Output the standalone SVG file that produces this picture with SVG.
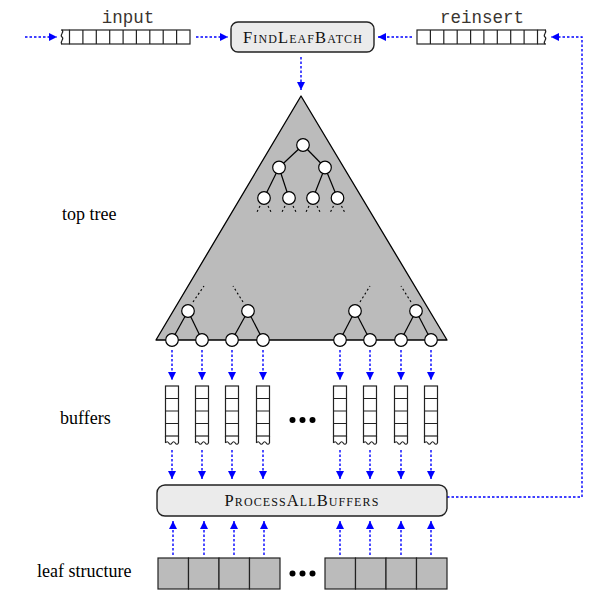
<svg xmlns="http://www.w3.org/2000/svg" width="599" height="613" viewBox="0 0 599 613">
<defs>
<marker id="ah" markerUnits="userSpaceOnUse" markerWidth="9" markerHeight="8" refX="8" refY="4" orient="auto">
<path d="M0,0 L8,4 L0,8 z" fill="#0000ff"/>
</marker>
<style>
.conn{stroke:#0000ff;stroke-width:1.4;stroke-dasharray:2.5,2;fill:none}
.box{fill:#ebebeb;stroke:#222;stroke-width:1.4}
.cell{fill:#fff;stroke:#222;stroke-width:1.2}
.ln{stroke:#222;stroke-width:1.2;fill:none}
.gray{fill:#bbbbbb;stroke:#222;stroke-width:1.2}
.node{fill:#fff;stroke:#000;stroke-width:1.2}
.edge{stroke:#000;stroke-width:1.2}
.dash{stroke:#000;stroke-width:1.1;stroke-dasharray:2,2.5}
.lbl{font-family:"Liberation Serif",serif;font-size:18px;fill:#000}
.mono{font-family:"Liberation Mono",monospace;font-size:17.5px;fill:#3a3530}
.sc{font-family:"Liberation Serif",serif;font-size:16.5px;font-variant:small-caps;letter-spacing:1.1px;fill:#111}
.dot{fill:#000}
</style>
</defs>

<g id="connectors">
<line class="conn" x1="25" y1="37" x2="57" y2="37" marker-end="url(#ah)"/>
<line class="conn" x1="196" y1="37" x2="228" y2="37" marker-end="url(#ah)"/>
<line class="conn" x1="412" y1="37" x2="378" y2="37" marker-end="url(#ah)"/>
<polyline class="conn" points="447,497 582,497 582,37 551,37" marker-end="url(#ah)"/>
<line class="conn" x1="301" y1="57" x2="301" y2="90" marker-end="url(#ah)"/>
<g>
<line class="conn" x1="172" y1="350" x2="172" y2="380" marker-end="url(#ah)"/>
<line class="conn" x1="202" y1="350" x2="202" y2="380" marker-end="url(#ah)"/>
<line class="conn" x1="232" y1="350" x2="232" y2="380" marker-end="url(#ah)"/>
<line class="conn" x1="263" y1="350" x2="263" y2="380" marker-end="url(#ah)"/>
<line class="conn" x1="340" y1="350" x2="340" y2="380" marker-end="url(#ah)"/>
<line class="conn" x1="370" y1="350" x2="370" y2="380" marker-end="url(#ah)"/>
<line class="conn" x1="401" y1="350" x2="401" y2="380" marker-end="url(#ah)"/>
<line class="conn" x1="431" y1="350" x2="431" y2="380" marker-end="url(#ah)"/>
</g>
<g>
<line class="conn" x1="172" y1="450" x2="172" y2="479" marker-end="url(#ah)"/>
<line class="conn" x1="202" y1="450" x2="202" y2="479" marker-end="url(#ah)"/>
<line class="conn" x1="232" y1="450" x2="232" y2="479" marker-end="url(#ah)"/>
<line class="conn" x1="263" y1="450" x2="263" y2="479" marker-end="url(#ah)"/>
<line class="conn" x1="340" y1="450" x2="340" y2="479" marker-end="url(#ah)"/>
<line class="conn" x1="370" y1="450" x2="370" y2="479" marker-end="url(#ah)"/>
<line class="conn" x1="401" y1="450" x2="401" y2="479" marker-end="url(#ah)"/>
<line class="conn" x1="431" y1="450" x2="431" y2="479" marker-end="url(#ah)"/>
</g>
<g>
<line class="conn" x1="173" y1="555" x2="173" y2="521" marker-end="url(#ah)"/>
<line class="conn" x1="204" y1="555" x2="204" y2="521" marker-end="url(#ah)"/>
<line class="conn" x1="234" y1="555" x2="234" y2="521" marker-end="url(#ah)"/>
<line class="conn" x1="264" y1="555" x2="264" y2="521" marker-end="url(#ah)"/>
<line class="conn" x1="340" y1="555" x2="340" y2="521" marker-end="url(#ah)"/>
<line class="conn" x1="370" y1="555" x2="370" y2="521" marker-end="url(#ah)"/>
<line class="conn" x1="401" y1="555" x2="401" y2="521" marker-end="url(#ah)"/>
<line class="conn" x1="431" y1="555" x2="431" y2="521" marker-end="url(#ah)"/>
</g>
</g>

<g id="input">
<text class="mono" x="128" y="23" text-anchor="middle">input</text>
<rect class="cell" x="69.5" y="30" width="120.5" height="14"/>
<line class="ln" x1="61" y1="30" x2="69.5" y2="30"/>
<line class="ln" x1="61" y1="44" x2="69.5" y2="44"/>
<path class="ln" d="M62,30 c3,2 -3,5 0,7 c3,2 -3,5 0,7"/>
<path class="ln" d="M82.9,30v14M96.3,30v14M109.7,30v14M123.1,30v14M136.4,30v14M149.8,30v14M163.2,30v14M176.6,30v14"/>
</g>

<g id="findleafbatch">
<rect class="box" x="231" y="22" width="143" height="30" rx="7"/>
<text class="sc" x="303" y="43" text-anchor="middle">FindLeafBatch</text>
</g>

<g id="reinsert">
<text class="mono" x="482" y="23" text-anchor="middle">reinsert</text>
<rect class="cell" x="417" y="30" width="120.5" height="14"/>
<line class="ln" x1="537.5" y1="30" x2="546" y2="30"/>
<line class="ln" x1="537.5" y1="44" x2="546" y2="44"/>
<path class="ln" d="M545,30 c3,2 -3,5 0,7 c3,2 -3,5 0,7"/>
<path class="ln" d="M430.4,30v14M443.8,30v14M457.2,30v14M470.6,30v14M483.9,30v14M497.3,30v14M510.7,30v14M524.1,30v14"/>
</g>

<g id="toptree">
<polygon points="301,96 156,340 447,340" fill="#bbbbbb" stroke="#000" stroke-width="1.3" stroke-linejoin="round"/>
<g>
<line class="edge" x1="303" y1="145" x2="279" y2="167.5"/>
<line class="edge" x1="303" y1="145" x2="325" y2="167.5"/>
<line class="edge" x1="279" y1="167.5" x2="264" y2="198"/>
<line class="edge" x1="279" y1="167.5" x2="289" y2="198"/>
<line class="edge" x1="325" y1="167.5" x2="313" y2="198"/>
<line class="edge" x1="325" y1="167.5" x2="337.5" y2="198"/>
<line class="dash" x1="260" y1="206" x2="256" y2="214"/>
<line class="dash" x1="268" y1="206" x2="272" y2="214"/>
<line class="dash" x1="285" y1="206" x2="281" y2="214"/>
<line class="dash" x1="293" y1="206" x2="297" y2="214"/>
<line class="dash" x1="309" y1="206" x2="305" y2="214"/>
<line class="dash" x1="317" y1="206" x2="321" y2="214"/>
<line class="dash" x1="333.5" y1="206" x2="329.5" y2="214"/>
<line class="dash" x1="341.5" y1="206" x2="345.5" y2="214"/>
<circle class="node" cx="303" cy="145" r="6.3"/>
<circle class="node" cx="279" cy="167.5" r="6.3"/>
<circle class="node" cx="325" cy="167.5" r="6.3"/>
<circle class="node" cx="264" cy="198" r="6.3"/>
<circle class="node" cx="289" cy="198" r="6.3"/>
<circle class="node" cx="313" cy="198" r="6.3"/>
<circle class="node" cx="337.5" cy="198" r="6.3"/>
</g>
<g>
<line class="dash" x1="193" y1="302" x2="204" y2="286"/>
<line class="dash" x1="243" y1="302" x2="233" y2="286"/>
<line class="dash" x1="360" y1="302" x2="370" y2="286"/>
<line class="dash" x1="411" y1="302" x2="401" y2="286"/>
<line class="edge" x1="188" y1="311" x2="172" y2="340"/>
<line class="edge" x1="188" y1="311" x2="202" y2="340"/>
<line class="edge" x1="248" y1="311" x2="232" y2="340"/>
<line class="edge" x1="248" y1="311" x2="263" y2="340"/>
<line class="edge" x1="355" y1="311" x2="340" y2="340"/>
<line class="edge" x1="355" y1="311" x2="370" y2="340"/>
<line class="edge" x1="416" y1="311" x2="401" y2="340"/>
<line class="edge" x1="416" y1="311" x2="431" y2="340"/>
<circle class="node" cx="188" cy="311" r="6.3"/>
<circle class="node" cx="248" cy="311" r="6.3"/>
<circle class="node" cx="355" cy="311" r="6.3"/>
<circle class="node" cx="416" cy="311" r="6.3"/>
<circle class="node" cx="172" cy="340" r="6.3"/>
<circle class="node" cx="202" cy="340" r="6.3"/>
<circle class="node" cx="232" cy="340" r="6.3"/>
<circle class="node" cx="263" cy="340" r="6.3"/>
<circle class="node" cx="340" cy="340" r="6.3"/>
<circle class="node" cx="370" cy="340" r="6.3"/>
<circle class="node" cx="401" cy="340" r="6.3"/>
<circle class="node" cx="431" cy="340" r="6.3"/>
</g>
</g>

<g id="buffers">
<defs>
<g id="buf">
<rect class="cell" x="-6.5" y="386" width="13" height="50"/>
<path class="ln" d="M-6.5,398.5h13M-6.5,411h13M-6.5,423.5h13M-6.5,436v7M6.5,436v7"/>
<path class="ln" d="M-6.5,443 q1.6,-2.5 3.25,0 t3.25,0 t3.25,0 t3.25,0"/>
</g>
</defs>
<use href="#buf" x="172"/>
<use href="#buf" x="202"/>
<use href="#buf" x="232"/>
<use href="#buf" x="263"/>
<use href="#buf" x="340"/>
<use href="#buf" x="370"/>
<use href="#buf" x="401"/>
<use href="#buf" x="431"/>
<circle class="dot" cx="292.5" cy="420" r="3"/>
<circle class="dot" cx="302.5" cy="420" r="3"/>
<circle class="dot" cx="312.5" cy="420" r="3"/>
</g>

<g id="processallbuffers">
<rect class="box" x="157" y="485" width="290" height="31" rx="8"/>
<text class="sc" x="302" y="506" text-anchor="middle">ProcessAllBuffers</text>
</g>

<g id="leafstructure">
<rect class="gray" x="158" y="558" width="30.5" height="31"/>
<rect class="gray" x="188.5" y="558" width="30.5" height="31"/>
<rect class="gray" x="219" y="558" width="30.5" height="31"/>
<rect class="gray" x="249.5" y="558" width="30.5" height="31"/>
<rect class="gray" x="325" y="558" width="30.5" height="31"/>
<rect class="gray" x="355.5" y="558" width="30.5" height="31"/>
<rect class="gray" x="386" y="558" width="30.5" height="31"/>
<rect class="gray" x="416.5" y="558" width="30.5" height="31"/>
<circle class="dot" cx="292.5" cy="573.5" r="3"/>
<circle class="dot" cx="302.5" cy="573.5" r="3"/>
<circle class="dot" cx="312.5" cy="573.5" r="3"/>
</g>

<g id="labels">
<text class="lbl" x="62" y="220">top tree</text>
<text class="lbl" x="60" y="424">buffers</text>
<text class="lbl" x="37" y="577">leaf structure</text>
</g>
</svg>
